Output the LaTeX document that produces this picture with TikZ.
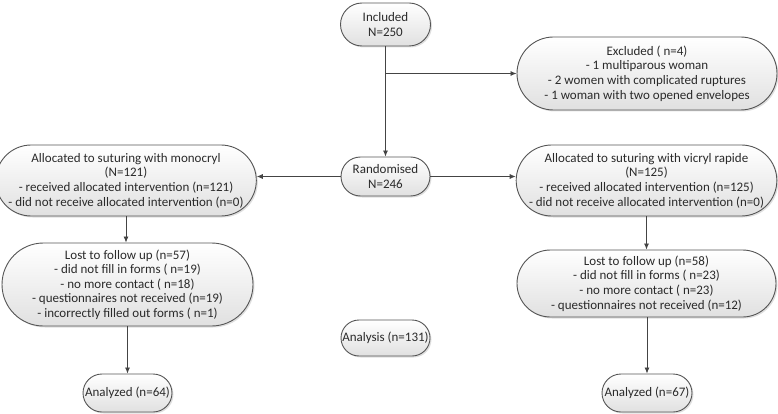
\documentclass[tikz,border=0pt]{standalone}
\usepackage{fontspec}
\setmainfont{Carlito}
\usetikzlibrary{shapes.misc,shadows,arrows.meta}
\definecolor{bordc}{HTML}{555555}
\definecolor{txtc}{HTML}{2A2A2A}
\definecolor{linec}{HTML}{444444}
\tikzset{
  pill/.style={rounded rectangle, draw=bordc, line width=0.9pt,
    top color=white, bottom color=black!12, text=txtc,
    drop shadow={shadow xshift=1.5pt, shadow yshift=-1.5pt, opacity=0.25},
    align=center, inner sep=0pt,
    font=\fontsize{13}{14.6}\selectfont},
  conn/.style={draw=linec, line width=0.8pt, -{Latex[length=6pt,width=5pt]}}
}
\begin{document}
\begin{tikzpicture}[x=1pt,y=-1pt]
\useasboundingbox (0,0) rectangle (778,414);
\node[pill, minimum width=90pt, minimum height=43pt] (inc) at (385.5,24.5) {Included\\N=250};
\node[pill, minimum width=260pt, minimum height=73pt] (exc) at (647,73.5) {Excluded ( n=4)\\- 1 multiparous woman\\- 2 women with complicated ruptures\\- 1 woman with two opened envelopes};
\node[pill, minimum width=89pt, minimum height=39pt] (rand) at (385.5,176.5) {Randomised\\N=246};
\node[pill, minimum width=248pt, minimum height=71pt] (mono) at (126,180.5) {Allocated to suturing with monocryl\\(N=121)\\- received allocated intervention (n=121)\\- did not receive allocated intervention (n=0)};
\node[pill, minimum width=259pt, minimum height=71pt] (vic) at (646.5,180.5) {Allocated to suturing with vicryl rapide\\(N=125)\\- received allocated intervention (n=125)\\- did not receive allocated intervention (n=0)};
\node[pill, minimum width=251pt, minimum height=83pt] (lostm) at (127.5,284.5) {Lost to follow up (n=57)\\- did not fill in forms ( n=19)\\- no more contact ( n=18)\\- questionnaires not received (n=19)\\- incorrectly filled out forms ( n=1)};
\node[pill, minimum width=259pt, minimum height=67pt] (lostv) at (646.5,283.5) {Lost to follow up (n=58)\\- did not fill in forms ( n=23)\\- no more contact ( n=23)\\- questionnaires not received (n=12)};
\node[pill, minimum width=89pt, minimum height=38pt] (anl) at (127.5,393) {Analyzed (n=64)};
\node[pill, minimum width=89pt, minimum height=36pt] (ana) at (385.5,338) {Analysis (n=131)};
\node[pill, minimum width=90pt, minimum height=38pt] (anr) at (647,393) {Analyzed (n=67)};
\coordinate (br) at (inc.south |- exc.west);
\draw[conn] (inc.south) -- (rand.north);
\draw[conn] (br) -- (exc.west);
\draw[conn] (rand.west) -- (rand.west -| mono.east);
\draw[conn] (rand.east) -- (rand.east -| vic.west);
\draw[conn] (mono.south) -- (mono.south |- lostm.north);
\draw[conn] (vic.south) -- (vic.south |- lostv.north);
\draw[conn] (anl.north |- lostm.south) -- (anl.north);
\draw[conn] (anr.north |- lostv.south) -- (anr.north);
\end{tikzpicture}
\end{document}
